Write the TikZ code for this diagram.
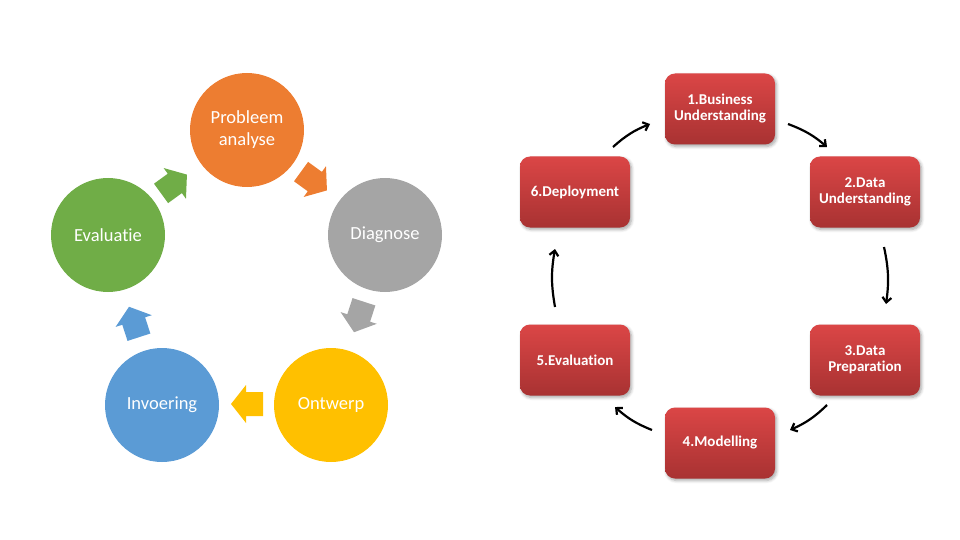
\documentclass[tikz,border=0pt]{standalone}
\usepackage{fontspec}
\setmainfont{Carlito}[Ligatures=NoCommon]
\usetikzlibrary{arrows.meta,shadows.blur}
\definecolor{corange}{HTML}{ED7D31}
\definecolor{cgray}{HTML}{A5A5A5}
\definecolor{cyellow}{HTML}{FFC000}
\definecolor{cblue}{HTML}{5B9BD5}
\definecolor{cgreen}{HTML}{70AD47}
\definecolor{redtop}{HTML}{DB4646}
\definecolor{redbot}{HTML}{A83232}
\tikzset{
  phase/.style={circle, minimum size=114pt, inner sep=0pt, text=white, align=center,
    font=\fontsize{18.5}{22}\selectfont},
  stagebox/.style={rounded corners=10pt, minimum width=110pt, minimum height=71pt,
    inner sep=0pt, top color=redtop, bottom color=redbot, draw=none, text=white, align=center,
    font=\fontsize{15}{16}\selectfont\bfseries,
    blur shadow={shadow xshift=1.5pt, shadow yshift=-2pt, shadow blur steps=6, shadow opacity=35, shadow blur radius=3pt}},
  cyc/.style={line width=2.2pt, -{Straight Barb[length=5pt,width=9pt,line width=2.2pt]}, bend left=10},
  blk/.pic={\fill[#1] (-16,-12) -- (1,-12) -- (1,-19) -- (16,0) -- (1,19) -- (1,12) -- (-16,12) -- cycle;}
}
\begin{document}
\begin{tikzpicture}[x=1pt,y=-1pt]
\useasboundingbox (0,0) rectangle (960,540);
% left cycle
\node[phase, fill=corange] (pa) at (247,130) {Probleem\\analyse};
\node[phase, fill=cgray] (dg) at (385,235) {Diagnose};
\node[phase, fill=cyellow] (ow) at (331,405) {Ontwerp};
\node[phase, fill=cblue] (iv) at (162,405) {Invoering};
\node[phase, fill=cgreen] (ev) at (108,235) {Evaluatie};
\pic[rotate=-36] (a1) at (314,181) {blk=corange};
\pic[rotate=-108] (a2) at (359,317) {blk=cgray};
\pic[rotate=180] (a3) at (247,404) {blk=cyellow};
\pic[rotate=108] (a4) at (134,322) {blk=cblue};
\pic[rotate=36] (a5) at (174,184) {blk=cgreen};
% right cycle
\node[stagebox] (b1) at (720,109) {1.Business\\Understanding};
\node[stagebox] (b2) at (865,192) {2.Data\\Understanding};
\node[stagebox] (b3) at (865,360) {3.Data\\Preparation};
\node[stagebox] (b4) at (720,443) {4.Modelling};
\node[stagebox] (b5) at (575,360) {5.Evaluation};
\node[stagebox] (b6) at (575,192) {6.Deployment};
\coordinate (s12) at (788,124); \coordinate (e12) at (827,147);
\coordinate (s23) at (884,247); \coordinate (e23) at (886,304);
\coordinate (s34) at (827,405); \coordinate (e34) at (790,430);
\coordinate (s45) at (652,430); \coordinate (e45) at (615,407);
\coordinate (s56) at (555,307); \coordinate (e56) at (555,249);
\coordinate (s61) at (613,147); \coordinate (e61) at (650,124);
\draw[cyc] (s12) to (e12);
\draw[cyc] (s23) to (e23);
\draw[cyc] (s34) to (e34);
\draw[cyc] (s45) to (e45);
\draw[cyc] (s56) to (e56);
\draw[cyc] (s61) to (e61);
\end{tikzpicture}
\end{document}
